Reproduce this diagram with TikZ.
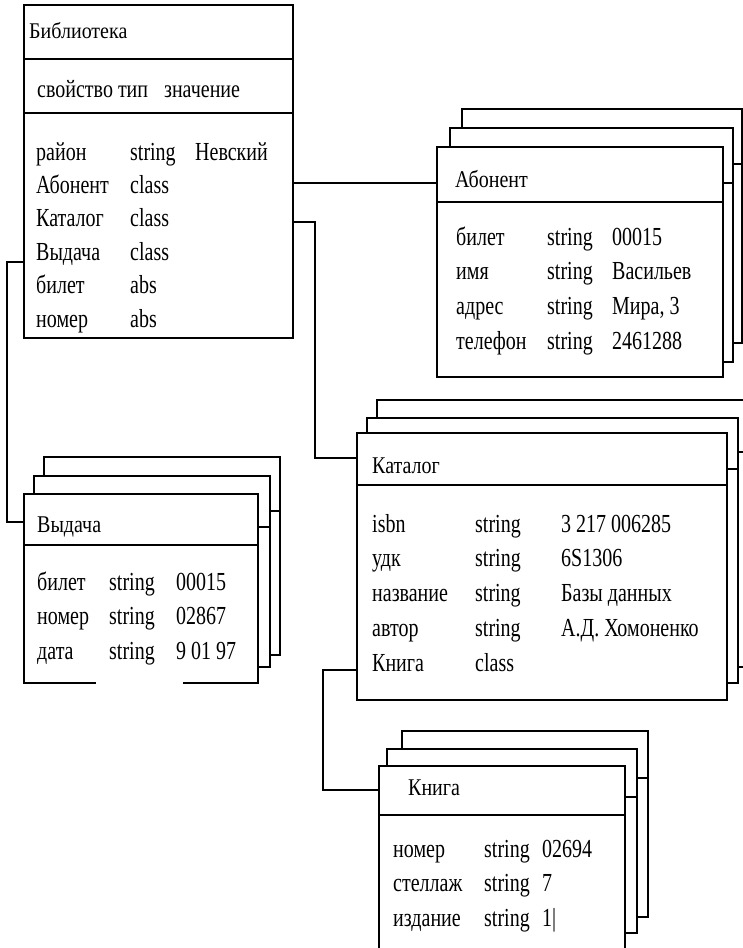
\documentclass[tikz,border=0pt]{standalone}
\usepackage{fontspec}
\usepackage{graphicx}
\setmainfont{Liberation Serif}
\usetikzlibrary{positioning}
\newcommand\vstretch[2]{\scalebox{1}[#1]{#2}}

\begin{document}
\begin{tikzpicture}[
  x=1pt,y=-1pt,
  cls/.style={draw,line width=1.5pt,fill=white,anchor=north west,inner sep=0pt,outer sep=0pt},
  txt/.style={anchor=base west,inner sep=0pt,font=\fontsize{20}{26.9}\selectfont},
  lnk/.style={line width=1.5pt}
]
  \useasboundingbox (0,0) rectangle (743,948);
  \clip (0,0) rectangle (743,948);

  % Библиотека
  \node[cls,minimum width=269,minimum height=333] (bib) at (24,5) {};
  \draw[lnk] (bib.west |- 0,59) -- (bib.east |- 0,59);
  \draw[lnk] (bib.west |- 0,113) -- (bib.east |- 0,113);
  \node[txt] (bibtitle) at (29,38) {\vstretch{1.12}{Библиотека}};
  \node[txt] (bibhead) at (37,97) {\vstretch{1.25}{свойство тип\hspace{16pt}значение}};
  \node[txt,font=\fontsize{20}{25.7}\selectfont] (bibbody) at (36,160) {\vstretch{1.3}{\begin{tabular}[t]{@{}p{94pt}@{}p{65pt}@{}l@{}}
    район & string & Невский\\
    Абонент & class & \\
    Каталог & class & \\
    Выдача & class & \\
    билет & abs & \\
    номер & abs &
  \end{tabular}}};

  % Абонент (stack of copies, back first)
  \foreach \k/\x/\y/\w/\h/\s in {3/462/109/280/234/55, 2/450/128/283/234/55, 1/437/147/286/230/55} {
    \node[cls,minimum width=\w,minimum height=\h] (abon\k) at (\x,\y) {};
    \draw[lnk] ([yshift=-\s pt]abon\k.north west) -- ([yshift=-\s pt]abon\k.north east);
  }
  \node[txt] (abontitle) at (455,187) {\vstretch{1.2}{Абонент}};
  \node[txt,font=\fontsize{20}{26.7}\selectfont] (abonbody) at (456,245) {\vstretch{1.3}{\begin{tabular}[t]{@{}p{91pt}@{}p{65pt}@{}l@{}}
    билет & string & 00015\\
    имя & string & Васильев\\
    адрес & string & Мира, 3\\
    телефон & string & 2461288
  \end{tabular}}};

  % Выдача
  \foreach \k/\x/\y/\w/\h/\s in {3/44/457/236/198/54, 2/34/476/236/191/51, 1/24/494/234/189/51} {
    \node[cls,minimum width=\w,minimum height=\h] (vyd\k) at (\x,\y) {};
    \draw[lnk] ([yshift=-\s pt]vyd\k.north west) -- ([yshift=-\s pt]vyd\k.north east);
  }
  \fill[white] (96,678) rectangle (183,688);
  \node[txt] (vydtitle) at (37,532) {\vstretch{1.2}{Выдача}};
  \node[txt] (vydbody) at (37,590) {\vstretch{1.3}{\begin{tabular}[t]{@{}p{72pt}@{}p{67pt}@{}l@{}}
    билет & string & 00015\\
    номер & string & 02867\\
    дата & string & 9 01 97
  \end{tabular}}};

  % Каталог
  \foreach \k/\x/\y/\w/\h/\s in {3/377/400/375/267/52, 2/367/418/371/265/51, 1/357/433/370/267/52} {
    \node[cls,minimum width=\w,minimum height=\h] (cat\k) at (\x,\y) {};
    \draw[lnk] ([yshift=-\s pt]cat\k.north west) -- ([yshift=-\s pt]cat\k.north east);
  }
  \node[txt] (cattitle) at (372,473) {\vstretch{1.2}{Каталог}};
  \node[txt] (catbody) at (372,532) {\vstretch{1.3}{\begin{tabular}[t]{@{}p{103pt}@{}p{86pt}@{}l@{}}
    isbn & string & 3 217 006285\\
    удк & string & 6S1306\\
    название & string & Базы данных\\
    автор & string & А.Д. Хомоненко\\
    Книга & class &
  \end{tabular}}};

  % Книга
  \foreach \k/\x/\y/\w/\h/\s in {3/402/731/246/186/47, 2/387/749/250/184/48, 1/379/766/246/194/49} {
    \node[cls,minimum width=\w,minimum height=\h] (kn\k) at (\x,\y) {};
    \draw[lnk] ([yshift=-\s pt]kn\k.north west) -- ([yshift=-\s pt]kn\k.north east);
  }
  \node[txt] (kntitle) at (408,795) {\vstretch{1.2}{Книга}};
  \node[txt] (knbody) at (393,857) {\vstretch{1.3}{\begin{tabular}[t]{@{}p{91pt}@{}p{58pt}@{}l@{}}
    номер & string & 02694\\
    стеллаж & string & 7\\
    издание & string & 1|
  \end{tabular}}};

  % links
  \draw[lnk] (bib.east |- 0,183) -- (abon1.west |- 0,183);
  \draw[lnk] (bib.east |- 0,222) -- ++(22,0) |- (cat1.west |- 0,458);
  \draw[lnk] (bib.west |- 0,262) -- ++(-17,0) |- (vyd1.west |- 0,522);
  \draw[lnk] (cat1.west |- 0,670) -- ++(-34,0) |- (kn1.west |- 0,790);
\end{tikzpicture}
\end{document}
